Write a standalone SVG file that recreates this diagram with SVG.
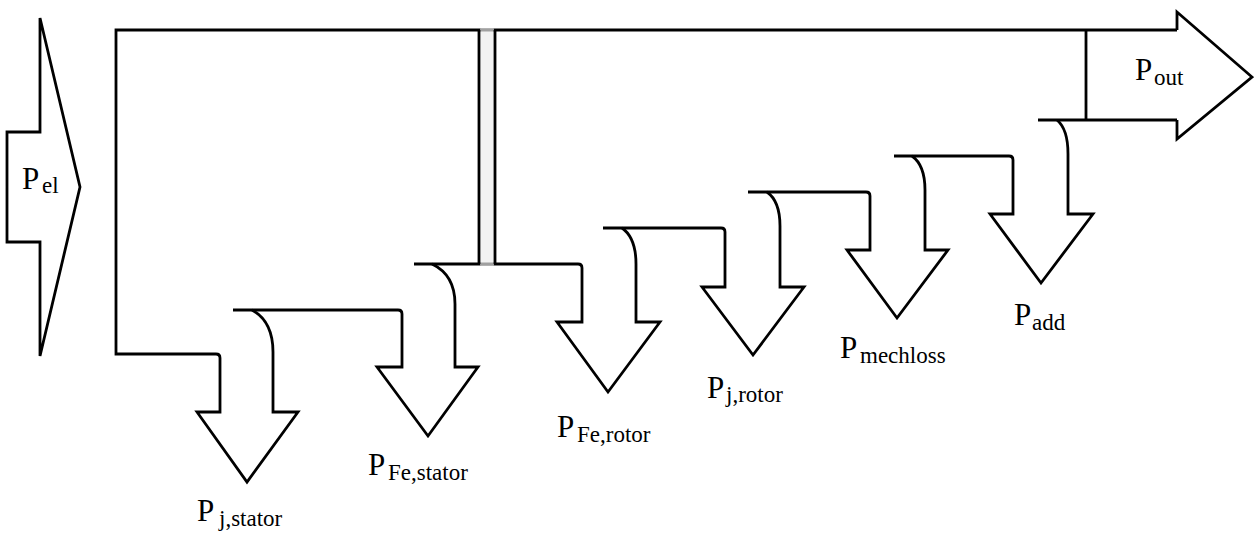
<svg xmlns="http://www.w3.org/2000/svg" width="1254" height="534" viewBox="0 0 1254 534">
<style>
.ln{fill:none;stroke:#000;stroke-width:2.8;stroke-linejoin:miter;stroke-linecap:butt}
.ar{fill:#fff;stroke:#000;stroke-width:2.8;stroke-linejoin:miter}
.p{font-family:"Liberation Serif","Times New Roman",serif;font-size:31px;fill:#000}
.s{font-family:"Liberation Serif","Times New Roman",serif;font-size:23px;fill:#000}
</style>
<rect x="0" y="0" width="1254" height="534" fill="#fff"/>
<g id="connectors">
<path class="ln" d="M1177,30 L116,30 L116,354 L216,354 Q220,354 220,358"/>
<path class="ln" d="M233,310 L398,310 Q402,310 402,314"/>
<path class="ln" d="M414,264 L578,264 Q582,264 582,268"/>
<path class="ln" d="M603,228 L721,228 Q725,228 725,232"/>
<path class="ln" d="M748,192 L866,192 Q870,192 870,196"/>
<path class="ln" d="M894,156 L1009,156 Q1013,156 1013,160"/>
<path class="ln" d="M1038,120 L1177,120"/>
<path class="ln" d="M1086,30 L1086,120"/>
<g id="rotor-gap">
<rect x="480.4" y="28.4" width="13.2" height="237.2" fill="#f2f2f2"/>
<path d="M480.4,30 L493.6,30 M480.4,264 L493.6,264" stroke="#a0a0a0" stroke-width="2.8" fill="none"/>
<path class="ln" d="M479,30 L479,264 M495,30 L495,264"/>
</g>
</g>
<g id="node-pel">
<polygon class="ar" points="7,132 40,132 40,18 80,187 40,356 40,242 7,242"/>
<text class="p" font-family="Liberation Serif, serif" x="22" y="189">P</text><text class="s" font-family="Liberation Serif, serif" x="42" y="193">el</text>
</g>
<g id="node-pout">
<path class="ln" d="M1177,30 L1177,12 L1252,77 L1177,139 L1177,120"/>
<text class="p" font-family="Liberation Serif, serif" x="1135" y="80">P</text><text class="s" font-family="Liberation Serif, serif" x="1154" y="85">out</text>
</g>
<g id="node-pj-stator">
<path class="ln" d="M220,358 L220,412 L197,412 L247,482 L298,412 L273,412 L273,352 C273,328.9 263.5,316.3 252,310"/>
<text class="p" font-family="Liberation Serif, serif" x="197" y="521">P</text><text class="s" font-family="Liberation Serif, serif" x="219" y="526">j,stator</text>
</g>
<g id="node-pfe-stator">
<path class="ln" d="M402,314 L402,367 L377,367 L428,436 L478,367 L455,367 L455,304 C455,282 444.6,270 432,264"/>
<text class="p" font-family="Liberation Serif, serif" x="368" y="475">P</text><text class="s" font-family="Liberation Serif, serif" x="388" y="480">Fe,stator</text>
</g>
<g id="node-pfe-rotor">
<path class="ln" d="M582,268 L582,322 L557,322 L608,392 L660,322 L636,322 L636,264 C636,244 629.7,233.4 622,228"/>
<text class="p" font-family="Liberation Serif, serif" x="557" y="437">P</text><text class="s" font-family="Liberation Serif, serif" x="577" y="442">Fe,rotor</text>
</g>
<g id="node-pj-rotor">
<path class="ln" d="M725,232 L725,287 L702,287 L753,355 L804,287 L780,287 L780,226 C780,207 774,197 767,192"/>
<text class="p" font-family="Liberation Serif, serif" x="707" y="398">P</text><text class="s" font-family="Liberation Serif, serif" x="726" y="402">j,rotor</text>
</g>
<g id="node-pmechloss">
<path class="ln" d="M870,196 L870,250 L847,250 L897,318 L948,250 L925,250 L925,190 C925,171 919,161 912,156"/>
<text class="p" font-family="Liberation Serif, serif" x="840" y="358">P</text><text class="s" font-family="Liberation Serif, serif" x="860" y="363">mechloss</text>
</g>
<g id="node-padd">
<path class="ln" d="M1013,160 L1013,214 L990,214 L1041,283 L1093,214 L1068,214 L1068,154 C1068,135 1063,125 1057,120"/>
<text class="p" font-family="Liberation Serif, serif" x="1014" y="325">P</text><text class="s" font-family="Liberation Serif, serif" x="1032" y="330">add</text>
</g>
</svg>
